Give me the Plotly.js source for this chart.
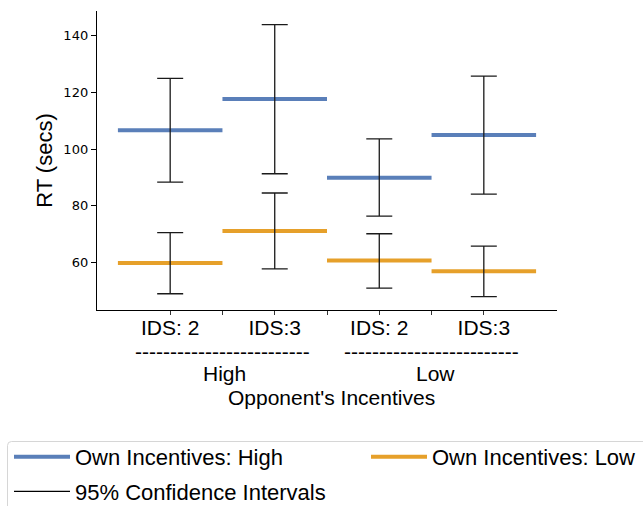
<!DOCTYPE html>
<html>
<head>
<meta charset="utf-8">
<script src="https://cdn.plot.ly/plotly-3.0.1.min.js"></script>
<style>
  html, body { margin: 0; padding: 0; background: #fff; }
  #chart { width: 643px; height: 506px; }
</style>
</head>
<body>
<div id="chart"></div>
<script>
// Conditions on the x axis (IDS level within each opponent-incentive group)
const conditions = ['IDS: 2', 'IDS:3', 'IDS: 2', 'IDS:3'];
const opponentGroups = ['High', 'Low'];

// Mean response time (secs) by own incentives
const highMean = [106.7, 117.7, 89.9, 105.0];
const lowMean  = [59.8, 71.1, 60.6, 56.8];

// 95% confidence interval bounds
const highLo = [88.3, 91.3, 76.3, 84.1];
const highHi = [125.0, 144.0, 103.6, 125.8];
const lowLo  = [48.9, 57.7, 50.9, 47.9];
const lowHi  = [70.5, 84.5, 70.1, 65.7];

const BLUE = '#5a7fb9';
const ORANGE = '#e6a02a';
const FONT = 'Liberation Sans, Arial, sans-serif';

// Each mean is a horizontal segment spanning its whole category slot
function segments(vals) {
  const xs = [], ys = [];
  vals.forEach((v, i) => {
    xs.push(i - 0.5, i + 0.5, null);
    ys.push(v, v, null);
  });
  return { xs, ys };
}
const hs = segments(highMean);
const ls = segments(lowMean);

const idx = conditions.map((_, i) => i);
const errX = idx.concat(idx);
const errY = highMean.concat(lowMean);
const errPlus = highHi.map((h, i) => h - highMean[i]).concat(lowHi.map((h, i) => h - lowMean[i]));
const errMinus = highLo.map((l, i) => highMean[i] - l).concat(lowLo.map((l, i) => lowMean[i] - l));

const traces = [
  { x: hs.xs, y: hs.ys, mode: 'lines', name: 'Own Incentives: High',
    legend: 'legend', legendgroup: 'high',
    line: { color: BLUE, width: 4 }, hoverinfo: 'skip' },
  { x: ls.xs, y: ls.ys, mode: 'lines', name: 'Own Incentives: Low',
    legend: 'legend2', legendgroup: 'low',
    line: { color: ORANGE, width: 4 }, hoverinfo: 'skip' },
  { x: errX, y: errY, mode: 'markers', showlegend: false,
    marker: { size: 1, opacity: 0 },
    error_y: { type: 'data', symmetric: false, array: errPlus, arrayminus: errMinus,
               color: '#1a1a1a', thickness: 1.3, width: 13 } },
  { x: [null], y: [null], mode: 'lines', name: '95% Confidence Intervals',
    legend: 'legend', legendgroup: 'ci',
    line: { color: '#000', width: 1.3 } }
];

// tick positions: labelled category centres plus short separators between them
const tickVals = [], tickText = [];
conditions.forEach((c, i) => {
  tickVals.push(i); tickText.push(c);
  if (i < conditions.length - 1) { tickVals.push(i + 0.5); tickText.push(''); }
});

const dash = '-------------------------';
const annotations = [
  { xref: 'x', yref: 'paper', x: 0.5, y: -0.139, text: dash },
  { xref: 'x', yref: 'paper', x: 2.5, y: -0.139, text: dash },
  { xref: 'x', yref: 'paper', x: 0.52, y: -0.212, text: opponentGroups[0] },
  { xref: 'x', yref: 'paper', x: 2.54, y: -0.212, text: opponentGroups[1] },
  { xref: 'paper', yref: 'paper', x: 0.51, y: -0.292, text: "Opponent's Incentives" }
].map(a => Object.assign({ showarrow: false, xanchor: 'center', yanchor: 'middle',
  font: { family: FONT, size: 21, color: '#000' } }, a));

// frame behind the legend, running off the right and bottom edges
const px = x => (x - 97) / 460, py = y => (310 - y) / 299;
const legendFrame = {
  type: 'path', xref: 'paper', yref: 'paper', layer: 'below',
  path: `M ${px(7.5)} ${py(520)} L ${px(7.5)} ${py(445.5)} Q ${px(7.5)} ${py(441.5)} ${px(11.5)} ${py(441.5)} L ${px(660)} ${py(441.5)}`,
  line: { color: '#d6d6d6', width: 1 }
};

const legendFont = { family: FONT, size: 22, color: '#000' };
const layout = {
  width: 643, height: 506,
  margin: { l: 97, r: 86, t: 11, b: 196, autoexpand: false },
  paper_bgcolor: '#fff', plot_bgcolor: '#fff',
  showlegend: true,
  legend: {
    orientation: 'v', x: px(9), xanchor: 'left', y: py(436), yanchor: 'top',
    traceorder: 'grouped', tracegroupgap: 3, itemwidth: 56,
    bgcolor: 'rgba(0,0,0,0)', borderwidth: 0, font: legendFont
  },
  legend2: {
    orientation: 'v', x: px(366), xanchor: 'left', y: py(436), yanchor: 'top',
    itemwidth: 56, bgcolor: 'rgba(0,0,0,0)', borderwidth: 0, font: legendFont
  },
  xaxis: {
    range: [-0.7, 3.7], showgrid: false, zeroline: false,
    showline: true, linecolor: '#000', linewidth: 1.2,
    tickmode: 'array', tickvals: tickVals, ticktext: tickText,
    ticks: 'outside', ticklen: 4, tickcolor: '#333', tickwidth: 1,
    ticklabelstandoff: -5,
    tickfont: { family: FONT, size: 21, color: '#000' }
  },
  yaxis: {
    range: [43.15, 148.8], showgrid: false, zeroline: false,
    showline: true, linecolor: '#000', linewidth: 1.2,
    tickmode: 'linear', tick0: 60, dtick: 20,
    ticks: 'outside', ticklen: 5, tickcolor: '#000', tickwidth: 1,
    tickfont: { family: 'DejaVu Sans, sans-serif', size: 13, color: '#000' },
    title: { text: 'RT (secs)', standoff: 4, font: { family: FONT, size: 22, color: '#000' } }
  },
  annotations: annotations,
  shapes: [legendFrame]
};

Plotly.newPlot('chart', traces, layout, { displayModeBar: false, staticPlot: true });
</script>
</body>
</html>
